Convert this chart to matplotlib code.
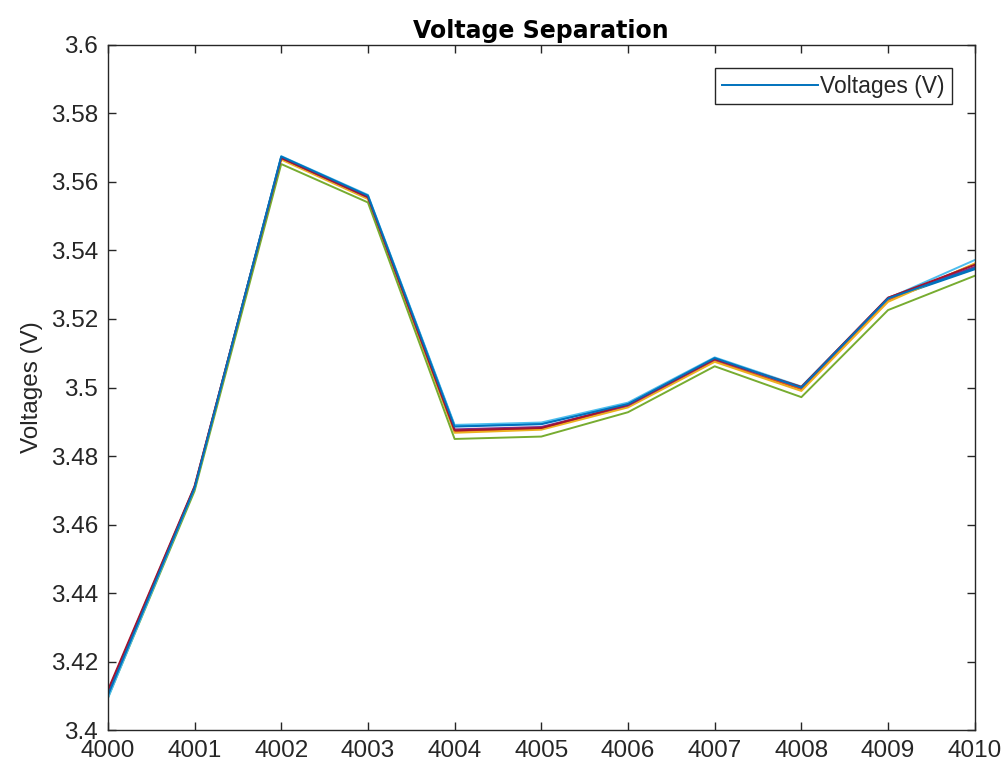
import numpy as np
import matplotlib
matplotlib.use("Agg")
import matplotlib.pyplot as plt
from matplotlib.ticker import FuncFormatter

# Данные: напряжения ячеек по шагам
steps = [4000, 4001, 4002, 4003, 4004, 4005, 4006, 4007, 4008, 4009, 4010]

v_blue = [3.4100, 3.4705, 3.5672, 3.5558, 3.4888, 3.4895, 3.4953, 3.5085, 3.5001, 3.5258, 3.5345]
v_orange = [3.4108, 3.4708, 3.5668, 3.5552, 3.4872, 3.4880, 3.4945, 3.5078, 3.4995, 3.5255, 3.5360]
v_yellow = [3.4105, 3.4706, 3.5665, 3.5550, 3.4868, 3.4877, 3.4942, 3.5075, 3.4990, 3.5250, 3.5362]
v_purple = [3.4112, 3.4710, 3.5670, 3.5555, 3.4878, 3.4885, 3.4948, 3.5082, 3.5000, 3.5262, 3.5352]
v_green = [3.4095, 3.4698, 3.5652, 3.5540, 3.4850, 3.4857, 3.4928, 3.5062, 3.4972, 3.5226, 3.5326]
v_cyan = [3.4093, 3.4707, 3.5675, 3.5562, 3.4891, 3.4898, 3.4956, 3.5088, 3.5003, 3.5260, 3.5372]
v_darkred = [3.4117, 3.4712, 3.5670, 3.5556, 3.4875, 3.4882, 3.4950, 3.5083, 3.5002, 3.5262, 3.5358]
v_blue2 = [3.4102, 3.4707, 3.5674, 3.5560, 3.4886, 3.4893, 3.4952, 3.5086, 3.5000, 3.5260, 3.5348]

series = [v_blue, v_orange, v_yellow, v_purple, v_green, v_cyan, v_darkred, v_blue2]
colors = ["#0072BD", "#D95319", "#EDB120", "#7E2F8E", "#77AC30", "#4DBEEE", "#A2142F", "#0072BD"]

y_ticks = [3.4, 3.42, 3.44, 3.46, 3.48, 3.5, 3.52, 3.54, 3.56, 3.58, 3.6]

axc = "#262626"
plt.rcParams['font.family'] = ['Liberation Sans', 'DejaVu Sans']

fig = plt.figure(figsize=(10.08, 7.72), dpi=100)
ax = fig.add_axes([0.107, 0.054, 0.860, 0.888])

for i, (vals, c) in enumerate(zip(series, colors)):
    ax.plot(steps, vals, color=c, linewidth=1.4,
            label="Voltages (V)" if i == 0 else None)

ax.set_xlim(4000, 4010)
ax.set_ylim(3.4, 3.6)
ax.set_xticks(steps)
ax.set_yticks(y_ticks)
ax.yaxis.set_major_formatter(FuncFormatter(lambda v, p: "%g" % round(v, 4)))

ax.tick_params(direction="in", top=True, right=True, length=6, width=1.0,
               colors=axc, labelsize=17.5, pad=7)
for s in ax.spines.values():
    s.set_color(axc)
    s.set_linewidth(1.0)

ax.set_ylabel("Voltages (V)", fontsize=17.5, color=axc, labelpad=6)
ax.set_title("Voltage Separation", fontsize=17, fontweight="bold",
             family="DejaVu Sans", pad=5)

leg = ax.legend(loc="upper right", fontsize=16.5, fancybox=False, framealpha=1,
                edgecolor=axc, labelcolor=axc, handlelength=4.2, handletextpad=0.1,
                borderpad=0.3, borderaxespad=1.0)
leg.get_frame().set_linewidth(1.0)

fig.savefig("out.png", dpi=100)
